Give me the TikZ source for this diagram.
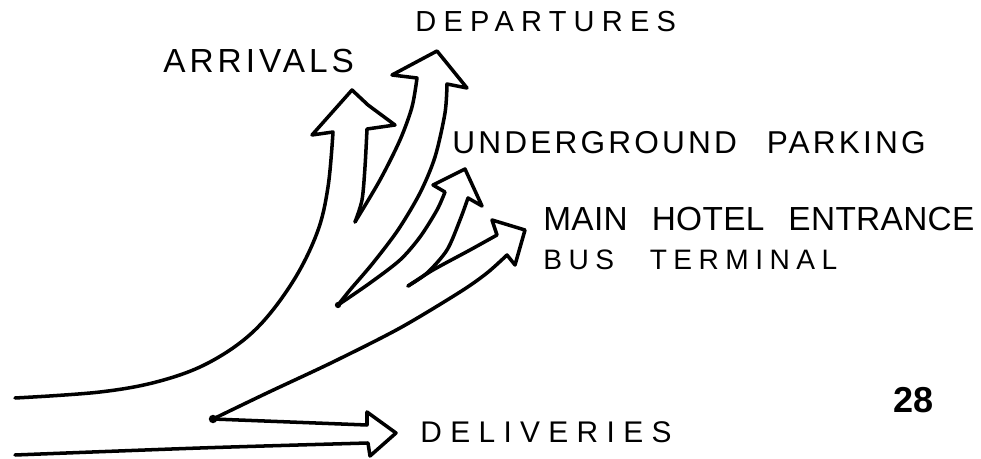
\documentclass[tikz,border=0pt]{standalone}
\usepackage{fontspec}
\newfontfamily\handfont{Liberation Sans}[WordSpace=2.5]
\usetikzlibrary{positioning}

\begin{document}
\begin{tikzpicture}[
    x=0.02cm, y=-0.02cm,
    edge/.style={line width=2pt, line join=round, line cap=round},
    lbl/.style 2 args={anchor=base west, inner sep=0pt, font={\fontsize{#1}{#1}\handfont\addfontfeature{LetterSpace=#2}}},
    pagenum/.style={anchor=base west, inner sep=0pt, font={\fontsize{20.5}{20.5}\handfont\bfseries}},
]
    \useasboundingbox (0,0) rectangle (981,459);

    % notches between the branches
    \coordinate (n1) at (355,222);
    \coordinate (n2) at (338,305);
    \coordinate (n3) at (408,286);
    \coordinate (n4) at (213,419);

    % arrivals
    \draw[edge] plot[smooth, tension=.6] coordinates {(15,398) (100,392) (160,381) (210,362) (255,330) (292,283) (317,233) (328,187) (333,132)}
        -- (312,135) -- (352,90) -- (368,105) -- (395,125) -- (367,129)
        -- plot[smooth] coordinates {(367,129) (365,167) (362,200) (n1)};
    % departures
    \draw[edge] plot[smooth] coordinates {(n1) (380,180) (400,140) (412,107) (417,78)}
        -- (392,75) -- (437,51) -- (467,88) -- (447,84)
        -- plot[smooth] coordinates {(447,84) (445,113) (435,157) (420,193) (398,230) (373,263) (350,290) (n2)};
    % underground parking
    \draw[edge] plot[smooth] coordinates {(n2) (370,283) (400,260) (420,237) (437,210) (445,192)}
        -- (433,185) -- (465,169) -- (482,206) -- (468,198)
        -- plot[smooth] coordinates {(468,198) (460,220) (447,250) (427,273) (n3)};
    % main hotel entrance
    \draw[edge] plot[smooth] coordinates {(n3) (433,270) (470,250) (497,235)}
        -- (492,220) -- (525,230) -- (515,265) -- (507,255)
        -- plot[smooth] coordinates {(507,255) (487,273) (460,292) (400,328) (333,362) (267,393) (n4)};
    % deliveries
    \draw[edge] (n4) -- (367,425) -- (367,412) -- (396,433) -- (370,456) -- (368,443)
        -- plot[smooth] coordinates {(368,443) (200,448) (15,455)};
    \fill (n4) circle (2.4pt);
    \fill (n2) circle (1.8pt);

    \node[lbl={19}{12}] (arr) at (163,73) {ARRIVALS};
    \node[lbl={16.5}{25}] (dep) at (415,32) {DEPARTURES};
    \node[lbl={18}{10}] (park) at (452,154) {UNDERGROUND PARKING};
    \node[lbl={19}{1}] (main) at (543,231) {MAIN HOTEL ENTRANCE};
    \node[lbl={16}{23}, below=0.78cm of main.base west, anchor=base west] (bus) {BUS TERMINAL};
    \node[lbl={17}{28}] (del) at (420,442) {DELIVERIES};
    \node[pagenum] (page) at (893,413) {28};
\end{tikzpicture}
\end{document}
